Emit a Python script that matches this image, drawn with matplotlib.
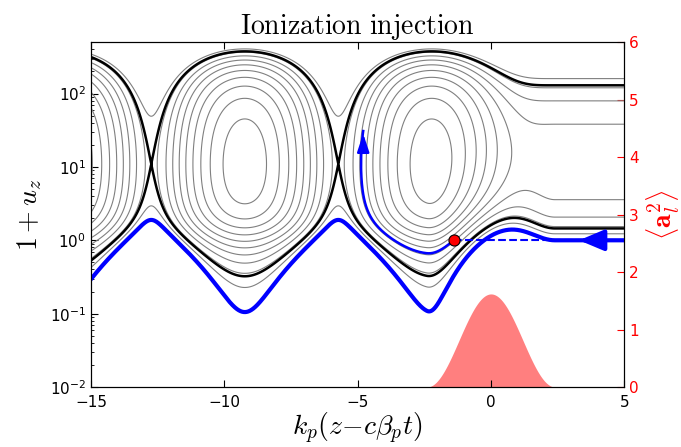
import numpy as np
import matplotlib
matplotlib.use('Agg')
import matplotlib.pyplot as plt

plt.rcParams['mathtext.fontset'] = 'cm'
plt.rcParams['font.family'] = 'DejaVu Sans'

# parametri
xi_range = [-15, 5]
y_range = [1e-2, 5e2]
a2_peak = 1.62        # <a^2> massimo del laser
pulse_len = 4.8       # durata (sin^2) dell'impulso
gamma_p = 10.0        # fattore di Lorentz della fase
xi_birth = -1.4       # punto di ionizzazione
levels = [-1.0, -0.8, -0.6, -0.4, -0.2, 0.0, 0.2, 0.4, 0.6, 0.8]
a2_ticks = [0, 1, 2, 3, 4, 5, 6]

beta_p = np.sqrt(1 - 1 / gamma_p**2)


def laser(x):
    x = np.asarray(x, dtype=float)
    return np.where(np.abs(x) < pulse_len / 2, a2_peak * np.cos(np.pi * x / pulse_len)**2, 0.0)


def rhs(x, phi, dphi):
    a2 = laser(x)
    return gamma_p**2 * (beta_p / np.sqrt(1 - (1 + a2) / (gamma_p**2 * (1 + phi)**2)) - 1)


# scia 1D non lineare, integrata da davanti verso dietro (RK4)
n = 10001
xi = np.linspace(xi_range[1], xi_range[0], n)
h = xi[1] - xi[0]
phi = np.zeros(n)
dphi = np.zeros(n)
for i in range(n - 1):
    x, p, q = xi[i], phi[i], dphi[i]
    k1p, k1q = q, rhs(x, p, q)
    k2p, k2q = q + h/2*k1q, rhs(x + h/2, p + h/2*k1p, q + h/2*k1q)
    k3p, k3q = q + h/2*k2q, rhs(x + h/2, p + h/2*k2p, q + h/2*k2q)
    k4p, k4q = q + h*k3q, rhs(x + h, p + h*k3p, q + h*k3q)
    phi[i+1] = p + h/6*(k1p + 2*k2p + 2*k3p + k4p)
    dphi[i+1] = q + h/6*(k1q + 2*k2q + 2*k3q + k4q)
xi = xi[::-1]
phi = phi[::-1]
a2 = laser(xi)

# hamiltoniana H(xi, u)
yy = np.logspace(np.log10(y_range[0]), np.log10(y_range[1]), 900)
X, Y = np.meshgrid(xi[::5], yy)
PHI = np.interp(X, xi, phi)
A2 = laser(X)
U = Y - 1
H = np.sqrt(1 + A2 + U**2) - beta_p * U - PHI

H_sep = 1 / gamma_p - phi.min()


def branch(hval, a2v, sign):
    disc = np.clip(hval**2 - (1 + a2v) / gamma_p**2, 0, None)
    return gamma_p**2 * (beta_p * hval + sign * np.sqrt(disc))


# elettrone di fondo (H = 1), ramo inferiore
u_fluid = branch(1 + phi, a2, -1)

# elettrone ionizzato a riposo
H_i = np.sqrt(1 + laser(xi_birth)) - np.interp(xi_birth, xi, phi)
xs = np.linspace(xi_birth, -8, 6000)
hs = H_i + np.interp(xs, xi, phi)
disc = hs**2 - (1 + laser(xs)) / gamma_p**2
k = np.argmax(disc < 0)
low = branch(hs[:k], laser(xs[:k]), -1)
up = branch(hs[:k][::-1], laser(xs[:k][::-1]), 1)
traj_x = np.concatenate([xs[:k], xs[:k][::-1]])
traj_u = np.concatenate([low, up])
y_end = 31
m = np.argmax(1 + traj_u > y_end)
traj_x, traj_y = traj_x[:m], 1 + traj_u[:m]

fig = plt.figure(figsize=(6.81, 4.47), dpi=100)
ax = fig.add_axes([0.1336, 0.1342, 0.7831, 0.7712])
ax2 = ax.twinx()

ax2.fill_between(xi, a2, 0, color='red', alpha=0.5, lw=0)
ax2.set_ylim(0, 6)
ax2.set_yticks(a2_ticks)

ax.set_zorder(ax2.get_zorder() + 1)
ax.patch.set_visible(False)

ax.contour(X, Y, H, levels=levels, colors='grey', linewidths=0.8, linestyles='solid')
ax.contour(X, Y, H, levels=[H_sep], colors='black', linewidths=1.8, linestyles='solid')
ax.plot(xi, 1 + u_fluid, color='blue', lw=3)
ax.plot([xi_birth, xi_range[1]], [1, 1], color='blue', lw=1.5, ls='--')
ax.plot(traj_x, traj_y, color='blue', lw=1.8)
ax.annotate('', xy=(traj_x[-1], traj_y[-1]), xytext=(traj_x[-1], 18),
            arrowprops=dict(arrowstyle='-|>,head_length=0.9,head_width=0.3',
                            mutation_scale=12, color='blue', lw=1.8))
ax.annotate('', xy=(3.2, 1), xytext=(4.05, 1),
            arrowprops=dict(arrowstyle='-|>,head_length=1.0,head_width=0.42',
                            mutation_scale=15, color='blue', lw=3))
ax.plot(xi_birth, 1, 'o', color='red', mec='black', mew=0.8, ms=8, zorder=5)

ax.set_yscale('log')
ax.set_xlim(xi_range)
ax.set_ylim(y_range)
ax.set_xticks([-15, -10, -5, 0, 5])
ax.tick_params(which='both', direction='in', top=True, labelsize=11)
ax.tick_params(which='major', length=5)
ax.tick_params(which='minor', length=2.5)
ax.tick_params(axis='x', pad=6)
ax2.tick_params(direction='in', length=5, colors='red', labelsize=11)
ax2.spines['right'].set_color('black')

ax.set_title(r'$\mathrm{Ionization\ injection}$', fontsize=20)
ax.set_xlabel(r'$k_p(z{-}c\beta_p t)$', fontsize=20, labelpad=0)
ax.set_ylabel(r'$1+u_z$', fontsize=20)
ax2.set_ylabel(r'$\left\langle \mathbf{a}_l^2 \right\rangle$', fontsize=20, color='red')

fig.savefig('out.png', dpi=100)
